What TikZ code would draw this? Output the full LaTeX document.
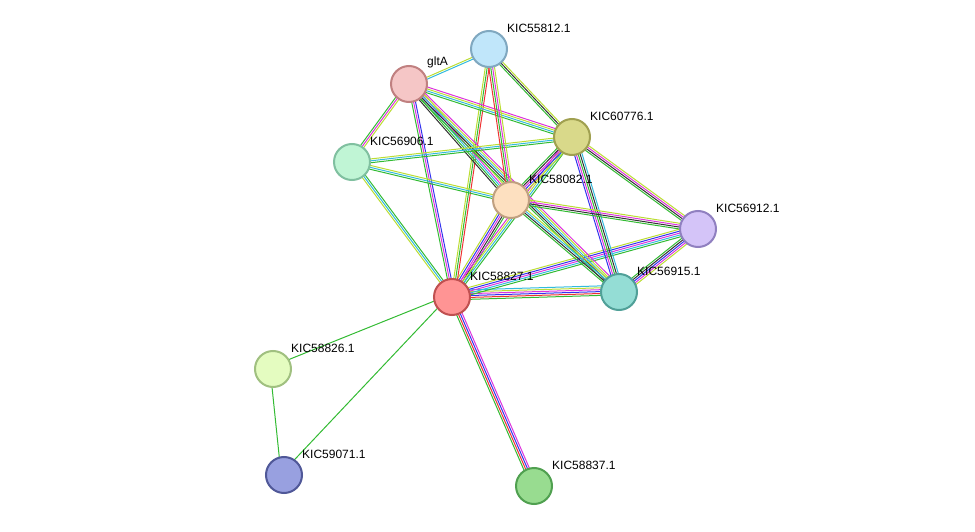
\documentclass[tikz,border=0pt]{standalone}
\usepackage{fontspec}
\setmainfont{Liberation Sans}
\usetikzlibrary{calc}
\definecolor{cgreen}{HTML}{33BB33}
\definecolor{ccyan}{HTML}{33BBDD}
\definecolor{cyel}{HTML}{BBDD33}
\definecolor{cmag}{HTML}{DD33DD}
\definecolor{cblue}{HTML}{3333EE}
\definecolor{cred}{HTML}{EE3333}
\definecolor{cblack}{HTML}{333333}
\definecolor{f55812}{HTML}{C0E6FA}\definecolor{d55812}{HTML}{80A8C0}
\definecolor{fgltA}{HTML}{F5C6C6}\definecolor{dgltA}{HTML}{C08080}
\definecolor{f60776}{HTML}{D9D98A}\definecolor{d60776}{HTML}{A0A050}
\definecolor{f56906}{HTML}{C0F5D5}\definecolor{d56906}{HTML}{80C0A0}
\definecolor{f58082}{HTML}{FDE0C0}\definecolor{d58082}{HTML}{C0A080}
\definecolor{f56912}{HTML}{D4C4F8}\definecolor{d56912}{HTML}{9080C0}
\definecolor{f58827}{HTML}{FF9494}\definecolor{d58827}{HTML}{C05050}
\definecolor{f56915}{HTML}{94DDD5}\definecolor{d56915}{HTML}{50A098}
\definecolor{f58826}{HTML}{E4FCC0}\definecolor{d58826}{HTML}{A0C080}
\definecolor{f59071}{HTML}{98A0E0}\definecolor{d59071}{HTML}{505898}
\definecolor{f58837}{HTML}{98DC90}\definecolor{d58837}{HTML}{50A050}
\newcommand{\linkit}[3]{%
  \foreach \c [count=\i] in {#3} {
    \draw [\c, line width=1pt]
      ($(#1)!{(\i-2.5)*1.9pt}!90:(#2)$) -- ($(#2)!{(\i-2.5)*1.9pt}!-90:(#1)$);
  }}
\begin{document}
\begin{tikzpicture}
  [
  x=1pt, y=-1pt,
  prot/.style={circle,draw=d#1,fill=f#1,line width=2pt,minimum size=36pt,inner sep=0pt},
  tag/.style={font=\fontsize{12}{13}\selectfont,inner sep=0pt,anchor=south west}
  ]
  \useasboundingbox (0,0) rectangle (975,532);
  % protein coordinates
  \coordinate (p55812) at (489,49);
  \coordinate (pgltA) at (409,84);
  \coordinate (p60776) at (572,137);
  \coordinate (p56906) at (352,162);
  \coordinate (p58082) at (511,200);
  \coordinate (p56912) at (698,229);
  \coordinate (p58827) at (452,297);
  \coordinate (p56915) at (619,292);
  \coordinate (p58826) at (273,369);
  \coordinate (p59071) at (284,475);
  \coordinate (p58837) at (534,486);
  % links
  \linkit{p58827}{p58837}{cgreen,cred,cblue,cmag}
  \linkit{p58827}{p58826}{cgreen}
  \linkit{p58827}{p59071}{cgreen}
  \linkit{p58826}{p59071}{cgreen}
  \linkit{p58827}{p56915}{cgreen,cred,cblue,cmag,cyel,ccyan}
  \linkit{p58827}{p56912}{cgreen,ccyan,cmag,cblue,cyel}
  \linkit{p58827}{p58082}{cgreen,cblack,cmag,cblue,cyel}
  \linkit{p58827}{p60776}{cgreen,ccyan,cyel,cmag}
  \linkit{p58827}{p55812}{cred,cgreen,cyel}
  \linkit{p58827}{pgltA}{cblue,cmag,cgreen}
  \linkit{p58827}{p56906}{cgreen,ccyan,cyel}
  \linkit{pgltA}{p55812}{ccyan,cyel}
  \linkit{pgltA}{p60776}{cgreen,ccyan,cyel,cmag}
  \linkit{pgltA}{p58082}{cblack,cgreen,ccyan,cmag,cyel}
  \linkit{pgltA}{p56915}{cgreen,cblack,ccyan,cyel,cmag}
  \linkit{pgltA}{p56906}{cgreen,cmag,cyel}
  \linkit{p56906}{p60776}{cgreen,ccyan,cyel}
  \linkit{p56906}{p58082}{cgreen,ccyan,cyel}
  \linkit{p55812}{p60776}{cgreen,cblack,cyel}
  \linkit{p55812}{p58082}{cred,cgreen,cmag,cyel}
  \linkit{p60776}{p58082}{cgreen,cblack,cmag,cblue,cyel}
  \linkit{p60776}{p56912}{cgreen,cblack,cmag,cyel}
  \linkit{p60776}{p56915}{cblue,cmag,cgreen,cblack,ccyan}
  \linkit{p58082}{p56912}{cgreen,cblack,cmag,cyel}
  \linkit{p58082}{p56915}{cgreen,cblack,ccyan,cyel}
  \linkit{p56912}{p56915}{cgreen,cblack,cblue,cmag,cyel}
  % proteins
  \node (n55812) at (p55812) [prot=55812] {};
  \node (ngltA) at (pgltA) [prot=gltA] {};
  \node (n60776) at (p60776) [prot=60776] {};
  \node (n56906) at (p56906) [prot=56906] {};
  \node (n58082) at (p58082) [prot=58082] {};
  \node (n56912) at (p56912) [prot=56912] {};
  \node (n58827) at (p58827) [prot=58827] {};
  \node (n56915) at (p56915) [prot=56915] {};
  \node (n58826) at (p58826) [prot=58826] {};
  \node (n59071) at (p59071) [prot=59071] {};
  \node (n58837) at (p58837) [prot=58837] {};
  % names
  \node (l55812) at (507,33) [tag] {KIC55812.1};
  \node (lgltA) at (427,68) [tag] {gltA};
  \node (l60776) at (590,121) [tag] {KIC60776.1};
  \node (l56906) at (370,146) [tag] {KIC56906.1};
  \node (l58082) at (529,184) [tag] {KIC58082.1};
  \node (l56912) at (716,213) [tag] {KIC56912.1};
  \node (l58827) at (470,281) [tag] {KIC58827.1};
  \node (l56915) at (637,276) [tag] {KIC56915.1};
  \node (l58826) at (291,353) [tag] {KIC58826.1};
  \node (l59071) at (302,459) [tag] {KIC59071.1};
  \node (l58837) at (552,470) [tag] {KIC58837.1};
\end{tikzpicture}
\end{document}
